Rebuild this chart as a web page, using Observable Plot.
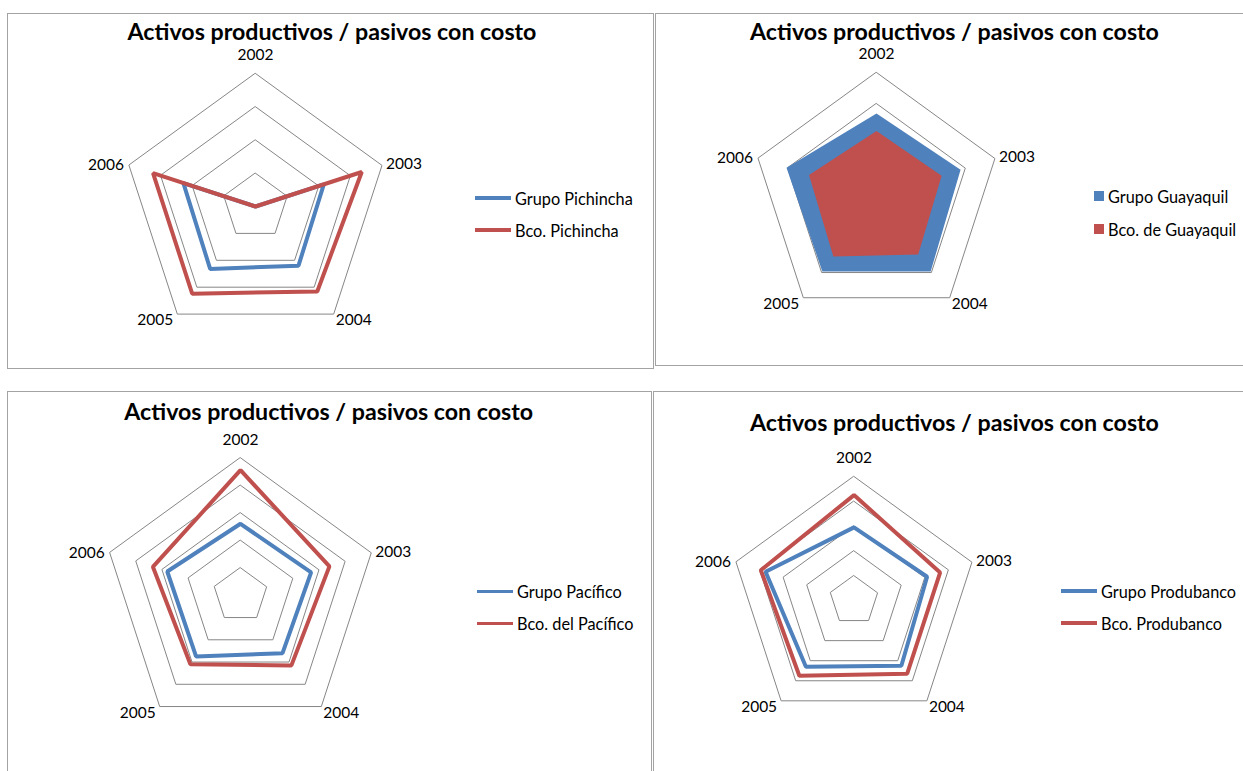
<!DOCTYPE html>
<html>
<head>
<meta charset="utf-8">
<script src="https://cdn.jsdelivr.net/npm/d3@7"></script>
<script src="https://cdn.jsdelivr.net/npm/@observablehq/plot@0.6"></script>
<style>
  html, body { margin: 0; padding: 0; background: #fff; }
  #root { position: relative; width: 1243px; height: 771px; overflow: hidden; background: #fff; font-family: Lato, "Open Sans", sans-serif; }
  .panel { position: absolute; border: 1.5px solid #a3a3a3; box-sizing: border-box; background: #fff; }
  .title { position: absolute; transform: translate(-50%, -50%); white-space: nowrap; font-weight: 700; font-size: 23.2px; color: #000; }
  .legend-row { position: absolute; display: flex; align-items: center; height: 20px; white-space: nowrap; font-size: 16.3px; color: #000; }
  .sw-line { display: inline-block; width: 36px; height: 3.5px; margin-right: 4px; }
  .sw-box { display: inline-block; width: 10px; height: 10px; margin-right: 4px; }
  svg { position: absolute; overflow: visible; }
</style>
</head>
<body>
<div id="root"></div>
<script>
// ---------- data ----------
const years = ["2002", "2003", "2004", "2005", "2006"];
const chartTitle = "Activos productivos / pasivos con costo";

// values expressed as fraction of the outer grid ring (axis units)
const grupoPichincha  = [0.00, 0.54, 0.55, 0.58, 0.57];
const bcoPichincha    = [0.00, 0.84, 0.79, 0.81, 0.81];
const grupoGuayaquil  = [0.67, 0.71, 0.74, 0.74, 0.76];
const bcoGuayaquil    = [0.53, 0.55, 0.57, 0.59, 0.57];
const grupoPacifico   = [0.52, 0.54, 0.52, 0.55, 0.56];
const bcoPacifico     = [0.91, 0.68, 0.63, 0.62, 0.67];
const grupoProdubanco = [0.59, 0.62, 0.65, 0.66, 0.75];
const bcoProdubanco   = [0.85, 0.73, 0.73, 0.75, 0.79];

const ringsQuarter = [0.25, 0.5, 0.75, 1];
const ringsFifth   = [0.2, 0.4, 0.6, 0.8, 1];

const seriesNames = {
  p1: ["Grupo Pichincha", "Bco. Pichincha"],
  p2: ["Grupo Guayaquil", "Bco. de Guayaquil"],
  p3: ["Grupo Pacífico", "Bco. del Pacífico"],
  p4: ["Grupo Produbanco", "Bco. Produbanco"]
};

// ---------- styling / layout ----------
const BLUE = "#4F81BD", RED = "#C0504D", GRID = "#868686";
const labelStyle = [
  {textAnchor: "middle", dx: 0, dy: -18},
  {textAnchor: "start", dx: 4, dy: -1},
  {textAnchor: "start", dx: 2, dy: 6},
  {textAnchor: "end", dx: -4, dy: 6},
  {textAnchor: "end", dx: -5, dy: 0}
];

const panels = [
  {box: [7, 13, 654, 369], cx: 255, cy: 206, R: 133, title: [332, 31], legend: [475, 198, 230],
   rings: ringsQuarter, series: [grupoPichincha, bcoPichincha], names: seriesNames.p1, kind: "line"},
  {box: [655, 13, 1260, 366], cx: 876, cy: 196.5, R: 124.5, title: [954.5, 31], legend: [1094, 196, 229],
   rings: ringsQuarter, series: [grupoGuayaquil, bcoGuayaquil], names: seriesNames.p2, kind: "area"},
  {box: [7, 391, 652, 790], cx: 240, cy: 594.8, R: 137.5, title: [328.7, 410.7], legend: [477, 591.5, 623.5],
   rings: ringsFifth, series: [grupoPacifico, bcoPacifico], names: seriesNames.p3, kind: "line"},
  {box: [653, 391, 1260, 790], cx: 853.5, cy: 600, R: 124, title: [954.5, 421.7], legend: [1061, 591, 623],
   rings: ringsFifth, series: [grupoProdubanco, bcoProdubanco], names: seriesNames.p4, kind: "line"}
];

const angle = i => i * 2 * Math.PI / years.length;
const polar = (values, extra = {}) =>
  values.map((v, i) => ({year: years[i], x: v * Math.sin(angle(i)), y: v * Math.cos(angle(i)), ...extra}));

const root = document.getElementById("root");

panels.forEach(p => {
  const [L, T, Rt, B] = p.box;
  const frame = document.createElement("div");
  frame.className = "panel";
  Object.assign(frame.style, {left: L + "px", top: T + "px", width: (Rt - L) + "px", height: (B - T) + "px"});
  root.appendChild(frame);

  const W = Rt - L, H = B - T;
  const ringData = p.rings.flatMap(r => polar(years.map(() => r), {ring: r}));
  const colors = [BLUE, RED];

  const marks = [
    Plot.line(ringData, {x: "x", y: "y", z: "ring", curve: "linear-closed", stroke: GRID, strokeWidth: 1})
  ];
  p.series.forEach((vals, k) => {
    const d = polar(vals);
    if (p.kind === "area") {
      marks.push(Plot.line(d, {x: "x", y: "y", curve: "linear-closed", fill: colors[k], stroke: "none"}));
    } else {
      marks.push(Plot.line(d, {x: "x", y: "y", curve: "linear-closed", stroke: colors[k], strokeWidth: 4, strokeLinejoin: "miter"}));
    }
  });
  const outer = polar(years.map(() => 1));
  outer.forEach((d, i) => {
    marks.push(Plot.text([d], {x: "x", y: "y", text: "year", fill: "#000", fontSize: 15.5, ...labelStyle[i]}));
  });

  const svg = Plot.plot({
    width: W, height: H,
    margin: 0,
    x: {domain: [(L - p.cx) / p.R, (Rt - p.cx) / p.R], axis: null},
    y: {domain: [(p.cy - B) / p.R, (p.cy - T) / p.R], axis: null},
    style: {fontFamily: "Lato, 'Open Sans', sans-serif", background: "transparent", overflow: "visible"},
    marks
  });
  svg.style.left = L + "px";
  svg.style.top = T + "px";
  root.appendChild(svg);

  const title = document.createElement("div");
  title.className = "title";
  title.textContent = chartTitle;
  title.style.left = p.title[0] + "px";
  title.style.top = p.title[1] + "px";
  root.appendChild(title);

  p.names.forEach((name, k) => {
    const row = document.createElement("div");
    row.className = "legend-row";
    row.style.left = p.legend[0] + "px";
    row.style.top = (p.legend[1 + k] - 10) + "px";
    const sw = document.createElement("span");
    sw.className = p.kind === "area" ? "sw-box" : "sw-line";
    sw.style.background = colors[k];
    const tx = document.createElement("span");
    tx.textContent = name;
    row.appendChild(sw);
    row.appendChild(tx);
    root.appendChild(row);
  });
});
</script>
</body>
</html>
